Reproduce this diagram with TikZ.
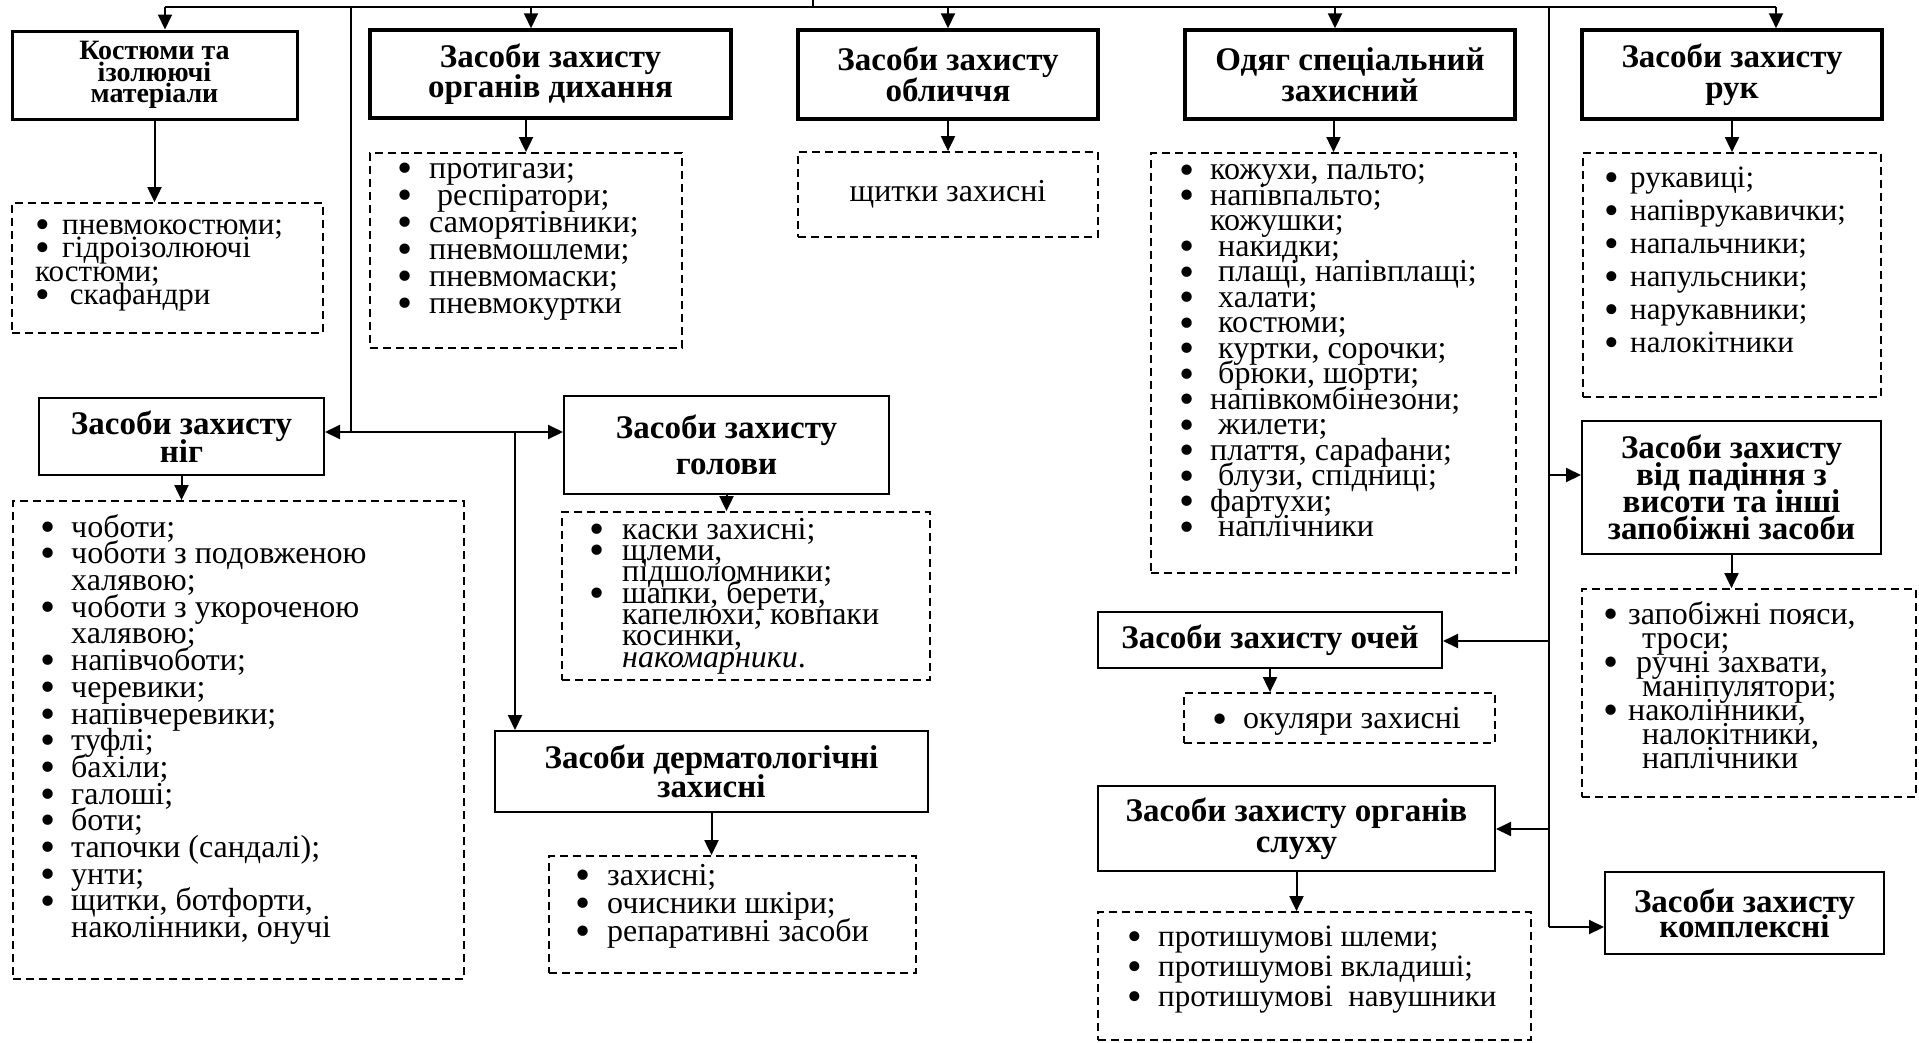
\documentclass[tikz,border=0pt]{standalone}
\usepackage{fontspec}
\setmainfont{Liberation Serif}
\usetikzlibrary{arrows.meta}

% lines may stand closer than the glyphs allow
\lineskiplimit=-\maxdimen

% bullet set in a box of given width
\newcommand\bult[1]{\makebox[#1][l]{\raisebox{-0.13em}{\scalebox{1.35}{\textbullet}}}}

\begin{document}
\begin{tikzpicture}[x=1pt, y=-1pt,
    box/.style={draw, line width=2pt, align=center, inner sep=0pt, font=\bfseries\fontsize{33}{28}\selectfont},
    topbox/.style={box, line width=3.5pt, font=\bfseries\fontsize{33}{31}\selectfont},
    lst/.style={draw, line width=1.8pt, dash pattern=on 8pt off 5pt, inner sep=0pt},
    txt/.style={anchor=north west, inner sep=0pt, align=left, font=\fontsize{32}{25}\selectfont, execute at begin node=\strut},
    ln/.style={line width=2pt},
    arr/.style={line width=2pt, -{Triangle[length=15pt, width=14pt]}}]

    \useasboundingbox (0,0) rectangle (1919,1042);

    % top row
    \node[topbox, line width=3pt, font=\bfseries\fontsize{28}{21.5}\selectfont, minimum width=285pt, minimum height=88pt] (kost) at (154.5,75) {Костюми та\\ізолюючі\\матеріали};
    \node[topbox, font=\bfseries\fontsize{33}{30}\selectfont, minimum width=361pt, minimum height=88pt] (dih) at (550.5,74) {Засоби захисту\\органів дихання};
    \node[topbox, minimum width=300pt, minimum height=89pt] (obl) at (948,74.5) {Засоби захисту\\обличчя};
    \node[topbox, minimum width=330pt, minimum height=89pt] (odyag) at (1350,74.5) {Одяг спеціальний\\захисний};
    \node[topbox, minimum width=300pt, minimum height=89pt] (ruky) at (1732,74.5) {Засоби захисту\\рук};

    % left branch
    \node[box, minimum width=285pt, minimum height=77pt] (nogy) at (181.5,436.5) {Засоби захисту\\ніг};
    \node[box, font=\bfseries\fontsize{33}{36}\selectfont, minimum width=325pt, minimum height=98pt] (golova) at (726.5,445) {Засоби захисту\\голови};
    \node[box, font=\bfseries\fontsize{33}{29}\selectfont, minimum width=433pt, minimum height=81pt] (derm) at (711.5,771.5) {Засоби дерматологічні\\захисні};

    % right branch
    \node[box, font=\bfseries\fontsize{33}{27}\selectfont, minimum width=299pt, minimum height=133pt] (pad) at (1731.5,487) {Засоби захисту\\від падіння з\\висоти та інші\\запобіжні засоби};
    \node[box, minimum width=344pt, minimum height=56pt] (ochi) at (1270,640) {Засоби захисту очей};
    \node[box, font=\bfseries\fontsize{33}{31}\selectfont, minimum width=397pt, minimum height=85pt] (sluh) at (1296.5,828.5) {Засоби захисту органів\\слуху};
    \node[box, font=\bfseries\fontsize{33}{25}\selectfont, minimum width=279pt, minimum height=82pt] (kompl) at (1744.5,913) {Засоби захисту\\комплексні};

    % dashed lists
    \node[lst, minimum width=311pt, minimum height=130pt] (kostL) at (167.5,268) {};
    \node[lst, minimum width=312pt, minimum height=195pt] (dihL) at (526,250.5) {};
    \node[lst, minimum width=300pt, minimum height=85pt, font=\fontsize{32}{25}\selectfont] (oblL) at (948,194.5) {щитки захисні};
    \node[lst, minimum width=365pt, minimum height=420pt] (odyagL) at (1333.5,363) {};
    \node[lst, minimum width=298pt, minimum height=244pt] (rukyL) at (1732,275) {};
    \node[lst, minimum width=334pt, minimum height=208pt] (padL) at (1749,693) {};
    \node[lst, minimum width=311pt, minimum height=50pt] (ochiL) at (1339.5,718) {};
    \node[lst, minimum width=433pt, minimum height=128pt] (sluhL) at (1314.5,976) {};
    \node[lst, minimum width=451pt, minimum height=478pt] (nogyL) at (238.5,740) {};
    \node[lst, minimum width=368pt, minimum height=168pt] (golovaL) at (746,596) {};
    \node[lst, minimum width=367pt, minimum height=117pt] (dermL) at (732.5,914.5) {};

    \node[txt, font=\fontsize{31}{23.5}\selectfont] (kostT) at (35,219) {\bult{27pt}пневмокостюми;\\\bult{27pt}гідроізолюючі\\костюми;\\\bult{27pt} скафандри};
    \node[txt, font=\fontsize{32}{27}\selectfont] (dihT) at (397,163) {\bult{32pt}протигази;\\\bult{32pt} респіратори;\\\bult{32pt}саморятівники;\\\bult{32pt}пневмошлеми;\\\bult{32pt}пневмомаски;\\\bult{32pt}пневмокуртки};
    \node[txt, font=\fontsize{32}{25.5}\selectfont] (odyagT) at (1179,164.5) {\bult{31pt}кожухи, пальто;\\\bult{31pt}напівпальто;\\\hspace*{31pt}кожушки;\\\bult{31pt} накидки;\\\bult{31pt} плащі, напівплащі;\\\bult{31pt} халати;\\\bult{31pt} костюми;\\\bult{31pt} куртки, сорочки;\\\bult{31pt} брюки, шорти;\\\bult{31pt}напівкомбінезони;\\\bult{31pt} жилети;\\\bult{31pt}плаття, сарафани;\\\bult{31pt} блузи, спідниці;\\\bult{31pt}фартухи;\\\bult{31pt} наплічники};
    \node[txt, font=\fontsize{31}{33}\selectfont] (rukyT) at (1604,167) {\bult{26pt}рукавиці;\\\bult{26pt}напіврукавички;\\\bult{26pt}напальчники;\\\bult{26pt}напульсники;\\\bult{26pt}нарукавники;\\\bult{26pt}налокітники};
    \node[txt, font=\fontsize{32}{24}\selectfont] (padT) at (1603,601) {\bult{25pt}запобіжні пояси,\\\hspace*{39pt}троси;\\\bult{25pt} ручні захвати,\\\hspace*{39pt}маніпулятори;\\\bult{25pt}наколінники,\\\hspace*{39pt}налокітники,\\\hspace*{39pt}наплічники};
    \node[txt] (ochiT) at (1212,707.5) {\bult{31pt}окуляри захисні};
    \node[txt, font=\fontsize{31}{30}\selectfont] (sluhT) at (1127,926) {\bult{31pt}протишумові шлеми;\\\bult{31pt}протишумові вкладиші;\\\bult{31pt}протишумові\ \ навушники};
    \node[txt, font=\fontsize{32}{26.7}\selectfont] (nogyT) at (40,514) {\bult{31pt}чоботи;\\\bult{31pt}чоботи з подовженою\\\hspace*{31pt}халявою;\\\bult{31pt}чоботи з укороченою\\\hspace*{31pt}халявою;\\\bult{31pt}напівчоботи;\\\bult{31pt}черевики;\\\bult{31pt}напівчеревики;\\\bult{31pt}туфлі;\\\bult{31pt}бахіли;\\\bult{31pt}галоші;\\\bult{31pt}боти;\\\bult{31pt}тапочки (сандалі);\\\bult{31pt}унти;\\\bult{31pt}щитки, ботфорти,\\\hspace*{31pt}наколінники, онучі};
    \node[txt, font=\fontsize{32}{21.3}\selectfont] (golovaT) at (589,518) {\bult{33pt}каски захисні;\\\bult{33pt}щлеми,\\\hspace*{33pt}підшоломники;\\\bult{33pt}шапки, берети,\\\hspace*{33pt}капелюхи, ковпаки\\\hspace*{33pt}косинки,\\\hspace*{33pt}\textit{накомарники}.};
    \node[txt, font=\fontsize{32}{28}\selectfont] (dermT) at (575,864) {\bult{32pt}захисні;\\\bult{32pt}очисники шкіри;\\\bult{32pt}репаративні засоби};

    % bus from the top
    \coordinate (root) at (813,0);
    \coordinate (busL) at (165,7);
    \coordinate (busR) at (1776,7);
    \draw[ln] (busL) -- (busR);
    \draw[ln] (root) -- (root |- busL);
    \foreach \x/\n in {165/kost, 531/dih, 948/obl, 1335/odyag, 1776/ruky}{
        \coordinate (b) at (\x,7);
        \draw[arr] (b) -- (b |- \n.north);
    }

    % left trunk
    \coordinate (lt) at (351,7);
    \coordinate (lj) at (351,432);
    \coordinate (dj) at (515,432);
    \draw[ln] (lt) -- (lj);
    \draw[arr] (lj) -- (lj -| nogy.east);
    \draw[arr] (lj) -- (lj -| golova.west);
    \draw[arr] (dj) -- (dj |- derm.north);

    % right trunk
    \coordinate (rt) at (1549,7);
    \coordinate (rPad) at (1549,475);
    \coordinate (rOchi) at (1549,641);
    \coordinate (rSluh) at (1549,829);
    \coordinate (rj) at (1549,927);
    \draw[ln] (rt) -- (rj);
    \draw[arr] (rPad) -- (rPad -| pad.west);
    \draw[arr] (rOchi) -- (rOchi -| ochi.east);
    \draw[arr] (rSluh) -- (rSluh -| sluh.east);
    \draw[arr] (rj) -- (rj -| kompl.west);

    % boxes to their lists
    \foreach \a/\b in {kost/kostL, obl/oblL, ruky/rukyL, pad/padL, ochi/ochiL, sluh/sluhL, nogy/nogyL, golova/golovaL, derm/dermL}
        \draw[arr] (\a.south) -- (\a.south |- \b.north);
    \draw[arr] (dihL.north |- dih.south) -- (dihL.north);
    \draw[arr] (odyagL.north |- odyag.south) -- (odyagL.north);

\end{tikzpicture}
\end{document}
